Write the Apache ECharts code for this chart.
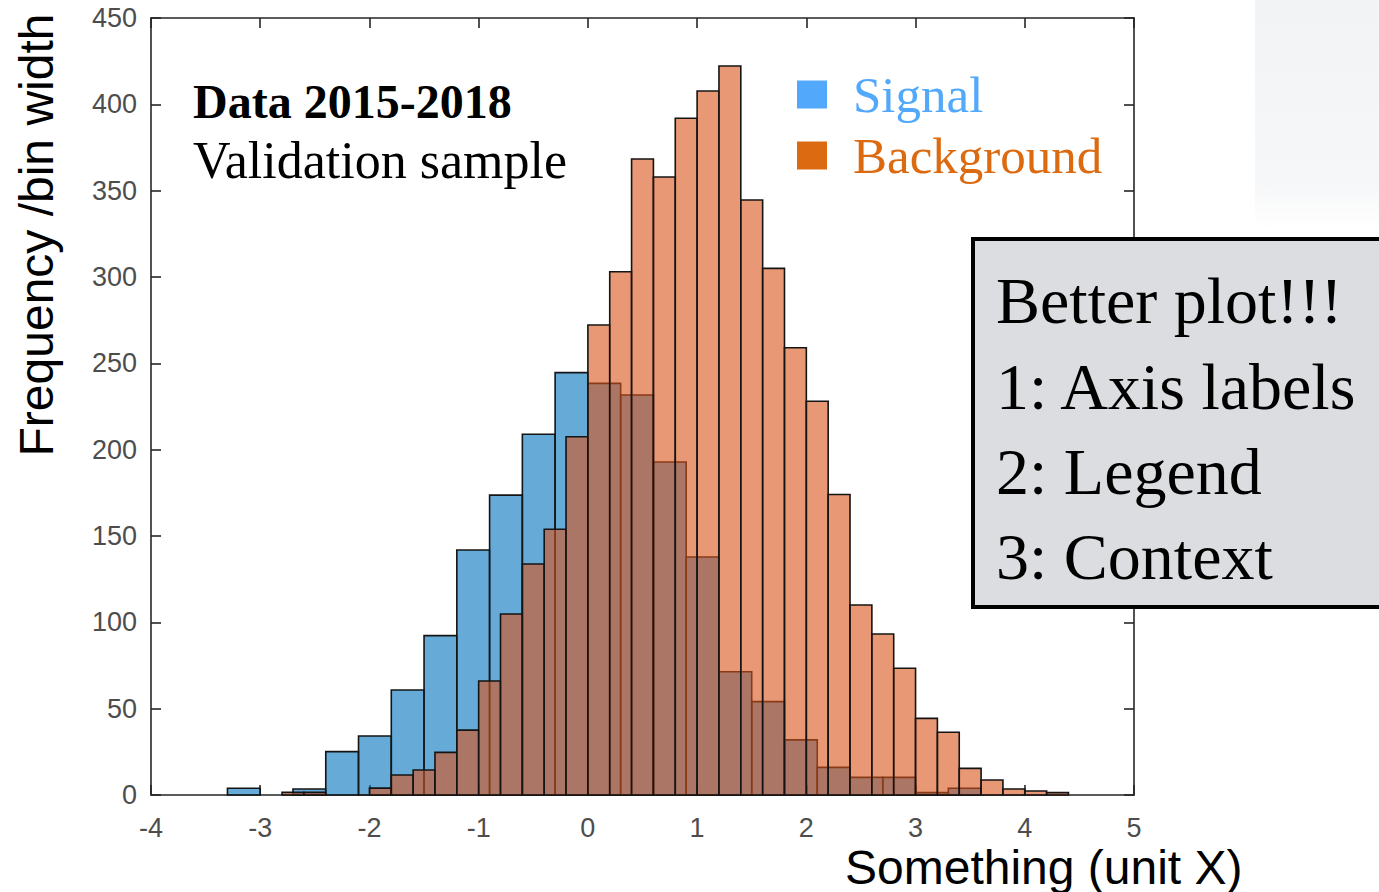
<!DOCTYPE html>
<html>
<head>
<meta charset="utf-8">
<script src="https://cdn.jsdelivr.net/npm/echarts@6/dist/echarts.min.js"></script>
<style>
html,body{margin:0;padding:0;background:#ffffff;}
#chart{width:1379px;height:892px;}
</style>
</head>
<body>
<div id="chart"></div>
<script>
// ---- data ----
const signalLeftEdges = [-3.3,-3.0,-2.7,-2.4,-2.1,-1.8,-1.5,-1.2,-0.9,-0.6,-0.3,0.0,0.3,0.6,0.9,1.2,1.5,1.8,2.1,2.4,2.7,3.0,3.3];
const signalBinWidth = 0.3;
const signalCounts = [3.9,0,3.5,25.1,34.2,60.8,92.3,141.9,173.7,208.9,244.6,238.4,231.7,192.9,137.8,71.4,54.1,31.9,16.0,10.2,10.2,1.4,3.9];

const backgroundLeftEdges = [-2.8,-2.6,-2.4,-2.2,-2.0,-1.8,-1.6,-1.4,-1.2,-1.0,-0.8,-0.6,-0.4,-0.2,0.0,0.2,0.4,0.6,0.8,1.0,1.2,1.4,1.6,1.8,2.0,2.2,2.4,2.6,2.8,3.0,3.2,3.4,3.6,3.8,4.0,4.2];
const backgroundBinWidth = 0.2;
const backgroundCounts = [1.5,1.5,0,0,4,11.6,14.5,24.7,37.6,66,104.8,133.8,153.9,207.5,272.2,303,368.3,357.9,391.9,407.7,422.2,344.6,305,259,228,174,110,93.2,73.4,44.4,36.3,15.4,8.7,3.5,2.3,1.4];

const xTickLabels = ['-4','-3','-2','-1','0','1','2','3','4','5'];
const yTickLabels = ['0','50','100','150','200','250','300','350','400','450'];

const seriesNames = ['Signal','Background'];
const contextLines = ['Data 2015-2018','Validation sample'];
const noteLines = ['Better plot!!!','1: Axis labels','2: Legend','3: Context'];
const xTitle = 'Something (unit X)';
const yTitle = 'Frequency /bin width';

// ---- chart ----
const chart = echarts.init(document.getElementById('chart'), null, {renderer:'svg'});

function histRender(binWidth, fill) {
  return function (params, api) {
    const x0 = api.value(0);
    const h = api.value(1);
    if (!(h > 0)) return null;
    const pTop = api.coord([x0, h]);
    const pBot = api.coord([x0 + binWidth, 0]);
    return {
      type: 'rect',
      shape: {x: pTop[0], y: pTop[1], width: pBot[0] - pTop[0], height: pBot[1] - pTop[1]},
      style: {fill: fill, stroke: '#141414', lineWidth: 1.6}
    };
  };
}

const axisLineStyle = {color:'#262626', width:1.6};
const labelStyle = {color:'#4d4d4d', fontSize:27, lineHeight:27, fontFamily:'Liberation Sans, Arial, sans-serif'};

const xMin = Number(xTickLabels[0]), xMax = Number(xTickLabels[xTickLabels.length-1]);
const yMin = Number(yTickLabels[0]), yMax = Number(yTickLabels[yTickLabels.length-1]);

function xAxisDef(pos, showLabel) {
  return {
    type:'value', position:pos, min:xMin, max:xMax, interval:1,
    axisLine:{show:true, onZero:false, lineStyle:axisLineStyle},
    axisTick:{show:true, inside:true, length:10, lineStyle:axisLineStyle},
    axisLabel:Object.assign({show:showLabel, margin:19}, labelStyle),
    splitLine:{show:false}
  };
}
function yAxisDef(pos, showLabel) {
  return {
    type:'value', position:pos, min:yMin, max:yMax, interval:50,
    axisLine:{show:true, onZero:false, lineStyle:axisLineStyle},
    axisTick:{show:true, inside:true, length:10, lineStyle:axisLineStyle},
    axisLabel:Object.assign({show:showLabel, margin:14}, labelStyle),
    splitLine:{show:false}
  };
}

const serif = 'Liberation Serif, Times New Roman, serif';
const sans = 'Liberation Sans, Arial, sans-serif';
const boxZ = 100;

chart.setOption({
  animation:false,
  backgroundColor:'#ffffff',
  grid:{left:151, right:245, top:18, bottom:97, containLabel:false, outerBoundsMode:'none'},
  xAxis:[xAxisDef('bottom', true), xAxisDef('top', false)],
  yAxis:[yAxisDef('left', true), yAxisDef('right', false)],
  legend:{
    orient:'vertical', left:797, top:69, padding:0, itemWidth:30, itemHeight:28, itemGap:10, icon:'rect',
    data:[
      {name:seriesNames[0], itemStyle:{color:'#52a8fa'}, textStyle:{color:'#52a8fa'}},
      {name:seriesNames[1], itemStyle:{color:'#dc6a10'}, textStyle:{color:'#dc6a10'}}
    ],
    textStyle:{fontFamily:serif, fontSize:51, lineHeight:50, padding:[0,0,0,21]},
    selectedMode:false
  },
  series:[
    {
      name:seriesNames[0], type:'custom', xAxisIndex:0, yAxisIndex:0,
      itemStyle:{color:'#52a8fa'},
      renderItem:histRender(signalBinWidth, 'rgba(0,114,189,0.6)'),
      encode:{x:0, y:1},
      data:signalLeftEdges.map((e,i)=>[e, signalCounts[i]])
    },
    {
      name:seriesNames[1], type:'custom', xAxisIndex:0, yAxisIndex:0,
      itemStyle:{color:'#dc6a10'},
      renderItem:histRender(backgroundBinWidth, 'rgba(217,83,25,0.6)'),
      encode:{x:0, y:1},
      data:backgroundLeftEdges.map((e,i)=>[e, backgroundCounts[i]])
    }
  ],
  graphic:[
    {type:'rect', z:-10, silent:true, shape:{x:1255, y:0, width:124, height:230},
      style:{fill:{type:'linear', x:0, y:0, x2:0, y2:1, colorStops:[{offset:0, color:'#f2f3f5'},{offset:0.8, color:'#f6f7f8'},{offset:1, color:'#ffffff'}]}}},
    {type:'text', left:193, top:77, style:{text:contextLines[0], font:'bold 48px ' + serif, fill:'#000'}},
    {type:'text', left:193, top:134, style:{text:contextLines[1], font:'52px ' + serif, fill:'#000'}},
    {type:'text', left:845, top:843, style:{text:xTitle, font:'48px ' + sans, lineHeight:44, fill:'#000'}},
    {type:'text', x:36, y:235, rotation:Math.PI/2, style:{text:yTitle, font:'48px ' + sans, fill:'#000', align:'center', verticalAlign:'middle'}},
    {type:'rect', z:boxZ, zlevel:1, shape:{x:973, y:239, width:420, height:368}, style:{fill:'#dcdde0', stroke:'#000', lineWidth:4}},
    {type:'text', z:boxZ+1, zlevel:1, x:996, y:300, style:{text:noteLines[0], font:'66px ' + serif, fill:'#000', verticalAlign:'middle'}},
    {type:'text', z:boxZ+1, zlevel:1, x:996, y:386, style:{text:noteLines[1], font:'66px ' + serif, fill:'#000', verticalAlign:'middle'}},
    {type:'text', z:boxZ+1, zlevel:1, x:996, y:471, style:{text:noteLines[2], font:'66px ' + serif, fill:'#000', verticalAlign:'middle'}},
    {type:'text', z:boxZ+1, zlevel:1, x:996, y:556, style:{text:noteLines[3], font:'66px ' + serif, fill:'#000', verticalAlign:'middle'}}
  ]
});
</script>
</body>
</html>
